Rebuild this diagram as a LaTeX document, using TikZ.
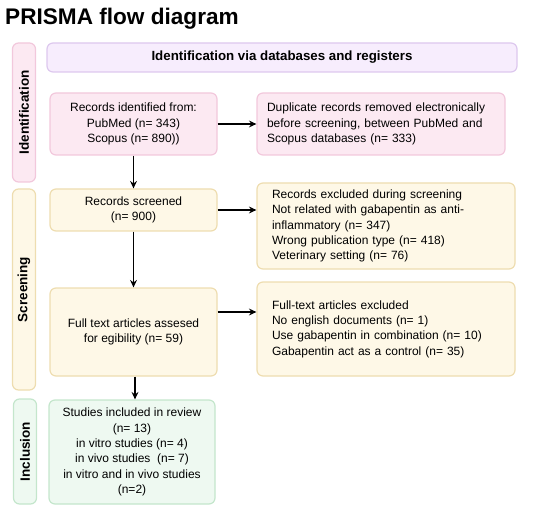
\documentclass[tikz,border=0pt]{standalone}
\usepackage{fontspec}
\setmainfont{Liberation Sans}
\usetikzlibrary{arrows.meta, positioning}
\definecolor{cPinkF}{HTML}{FCE9F2}
\definecolor{cPinkD}{HTML}{F2C8DC}
\definecolor{cLavF}{HTML}{F7EDFD}
\definecolor{cLavD}{HTML}{DDC8EE}
\definecolor{cYelF}{HTML}{FEF8E7}
\definecolor{cYelD}{HTML}{EEDDB0}
\definecolor{cGrnF}{HTML}{EEF9F1}
\definecolor{cGrnD}{HTML}{C4E6CC}
\tikzset{
	box/.style      ={rectangle, rounded corners=6pt, draw, line width=1.2pt, align=center, inner sep=0pt, font=\fontsize{12}{15.3}\selectfont},
	leftbox/.style  ={box, align=left, inner xsep=15pt},
	sidebox/.style  ={box, rotate=90, minimum height=23pt, font=\bfseries\fontsize{13.5}{15}\selectfont},
	flowarrow/.style={-{Stealth[length=2.6mm, width=2.4mm]}, line width=1.3pt},
}

\begin{document}
\begin{tikzpicture}[x=1pt, y=-1pt]
	\useasboundingbox (0,0) rectangle (550,511);
	\node[anchor=west, font=\bfseries\fontsize{22.6}{24}\selectfont, inner sep=0pt] (title) at (5,19) {PRISMA flow diagram};
	% phase labels
	\node[sidebox, draw=cPinkD, fill=cPinkF, minimum width=139pt] (ident) at (24,112.5) {Identification};
	\node[sidebox, draw=cYelD, fill=cYelF, minimum width=201pt] (screen) at (24,289.5) {Screening};
	\node[sidebox, draw=cGrnD, fill=cGrnF, minimum width=105pt] (incl) at (25,451.5) {Inclusion};
	% boxes
	\node[box, draw=cLavD, fill=cLavF, minimum width=470pt, minimum height=29pt, font=\bfseries\fontsize{13.3}{15}\selectfont] (head) at (282,57.5) {Identification via databases and registers};
	\node[box, draw=cPinkD, fill=cPinkF, minimum width=167pt, minimum height=62pt] (rec) at (133.5,124) {Records identified from:\\PubMed (n= 343)\\Scopus (n= 890))};
	\node[leftbox, draw=cPinkD, fill=cPinkF, text width=228pt, inner xsep=10pt, minimum height=62pt] (dup) at (381,124) {Duplicate records removed electronically\\before screening, between PubMed and\\Scopus databases (n= 333)};
	\node[box, draw=cYelD, fill=cYelF, minimum width=167pt, minimum height=42pt] (scr) at (133.5,210) {Records screened\\(n= 900)};
	\node[leftbox, draw=cYelD, fill=cYelF, text width=228pt, minimum height=86pt] (excl) at (386,226) {Records excluded during screening\\Not related with gabapentin as anti-\\inflammatory (n= 347)\\Wrong publication type (n= 418)\\Veterinary setting (n= 76)};
	\node[box, draw=cYelD, fill=cYelF, minimum width=167pt, minimum height=88pt] (full) at (133.5,332) {Full text articles assesed\\for egibility (n= 59)};
	\node[leftbox, draw=cYelD, fill=cYelF, text width=228pt, minimum height=94pt] (ftx) at (386,329) {Full-text articles excluded\\No english documents (n= 1)\\Use gabapentin in combination (n= 10)\\Gabapentin act as a control (n= 35)};
	\node[box, draw=cGrnD, fill=cGrnF, minimum width=166pt, minimum height=104pt] (stud) at (132,452) {Studies included in review\\(n= 13)\\in vitro studies (n= 4)\\in vivo studies~ (n= 7)\\in vitro and in vivo studies\\(n=2)};
	% connectors
	\draw[flowarrow] (rec) -- (dup);
	\draw[flowarrow] (scr.east) -- (scr.east -| excl.west);
	\draw[flowarrow] ([yshift=20pt]full.east) -- ([yshift=20pt]full.east -| ftx.west);
	\draw[flowarrow] (rec) -- (scr);
	\draw[flowarrow] (scr) -- (full);
	\draw[flowarrow] ([xshift=1.5pt]full.south) -- ([xshift=1.5pt]full.south |- stud.north);
\end{tikzpicture}
\end{document}
